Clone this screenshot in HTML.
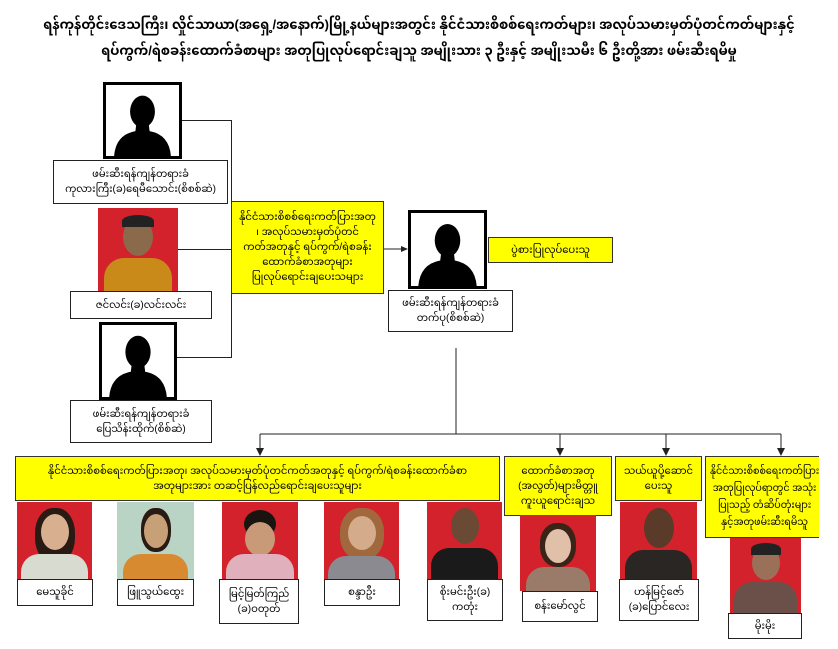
<!DOCTYPE html>
<html><head><meta charset="utf-8"><style>
*{margin:0;padding:0;box-sizing:border-box}
body{width:838px;height:649px;background:#fff;position:relative;overflow:hidden;font-family:"Liberation Sans","Noto Sans Myanmar","Padauk",sans-serif;color:#000}
.a{position:absolute}
.t{position:absolute;left:0;width:838px;text-align:center;font-size:13px;font-weight:bold}
.box{position:absolute;border:1.5px solid #222;background:#fff;display:flex;align-items:center;justify-content:center;text-align:center;font-size:10px;line-height:15px}
.y{position:absolute;border:1px solid #333;background:#ffff00;display:flex;align-items:center;justify-content:center;text-align:center;font-size:10px;line-height:15px;overflow:hidden}
.sil{position:absolute;border:3px solid #000;background:#fff;overflow:hidden}
.ph{position:absolute;background:#d3222c;overflow:hidden}
.ln{position:absolute;background:#222}
</style></head><body>
<div class="t" style="top:13px">ရန်ကုန်တိုင်းဒေသကြီး၊ လှိုင်သာယာ(အရှေ့/အနောက်)မြို့နယ်များအတွင်း နိုင်ငံသားစိစစ်ရေးကတ်များ၊ အလုပ်သမားမှတ်ပုံတင်ကတ်များနှင့်</div>
<div class="t" style="top:39px">ရပ်ကွက်/ရဲစခန်းထောက်ခံစာများ အတုပြုလုပ်ရောင်းချသူ အမျိုးသား ၃ ဦးနှင့် အမျိုးသမီး ၆ ဦးတို့အား ဖမ်းဆီးရမိမှု</div>

<div class="ln" style="left:181px;top:120px;width:51px;height:1px"></div>
<div class="ln" style="left:231px;top:120px;width:1px;height:238px"></div>
<div class="ln" style="left:177px;top:249px;width:54px;height:1px"></div>
<div class="ln" style="left:176px;top:357px;width:56px;height:1px"></div>

<svg class="a" style="left:0;top:0" width="838" height="649">
<defs><symbol id="s" viewBox="0 0 80 80"><ellipse cx="40" cy="30" rx="14" ry="18" fill="#000"/><path d="M33 44 L47 44 L48 52 Q70 56 72 80 L8 80 Q10 56 32 52 Z" fill="#000"/></symbol></defs>
<line x1="383" y1="249" x2="403" y2="249" stroke="#222" stroke-width="1"/>
<polygon points="408,249 401,246 401,252" fill="#222"/>
<line x1="456" y1="348" x2="456" y2="434" stroke="#222"/>
<line x1="260" y1="434" x2="781" y2="434" stroke="#222"/>
<g stroke="#222"><line x1="260" y1="434" x2="260" y2="450"/><line x1="560" y1="434" x2="560" y2="450"/><line x1="666" y1="434" x2="666" y2="450"/><line x1="781" y1="434" x2="781" y2="450"/></g>
<g fill="#222"><polygon points="260,456 256,448 264,448"/><polygon points="560,456 556,448 564,448"/><polygon points="666,456 662,448 670,448"/><polygon points="781,456 777,448 785,448"/></g>
</svg>

<div class="sil" style="left:103px;top:82px;width:79px;height:77px"><svg width="73" height="71" viewBox="0 0 80 80"><use href="#s"/></svg></div>
<div class="box" style="left:53px;top:160px;width:175px;height:44px">ဖမ်းဆီးရန်ကျန်တရားခံ<br>ကုလားကြီး(ခ)ရေမီသောင်း(စိစစ်ဆဲ)</div>
<div class="ph" style="left:98px;top:208px;width:80px;height:83px"><div class="a" style="left:25px;top:10px;width:30px;height:38px;border-radius:50%;background:#8a6a4a"></div><div class="a" style="left:24px;top:7px;width:32px;height:12px;border-radius:50% 50% 0 0;background:#222"></div><div class="a" style="left:6px;top:50px;width:68px;height:40px;border-radius:20px 20px 0 0;background:#c98a1a"></div></div>
<div class="box" style="left:70px;top:291px;width:142px;height:28px">ဇင်လင်း(ခ)လင်းလင်း</div>
<div class="sil" style="left:99px;top:322px;width:78px;height:78px"><svg width="72" height="72" viewBox="0 0 80 80"><use href="#s"/></svg></div>
<div class="box" style="left:70px;top:400px;width:142px;height:43px">ဖမ်းဆီးရန်ကျန်တရားခံ<br>ပြေသိန်းထိုက်(စိစ်ဆဲ)</div>

<div class="y" style="left:231px;top:201px;width:153px;height:93px">နိုင်ငံသားစိစစ်ရေးကတ်ပြားအတု<br>၊ အလုပ်သမားမှတ်ပုံတင်<br>ကတ်အတုနှင့် ရပ်ကွက်/ရဲစခန်း<br>ထောက်ခံစာအတုများ<br>ပြုလုပ်ရောင်းချပေးသများ</div>

<div class="sil" style="left:408px;top:210px;width:79px;height:79px"><svg width="73" height="73" viewBox="0 0 80 80"><use href="#s"/></svg></div>
<div class="box" style="left:388px;top:290px;width:125px;height:42px">ဖမ်းဆီးရန်ကျန်တရားခံ<br>တက်ပု(စိစစ်ဆဲ)</div>
<div class="y" style="left:488px;top:237px;width:125px;height:26px">ပွဲစားပြုလုပ်ပေးသူ</div>

<div class="y" style="left:15px;top:456px;width:485px;height:45px">နိုင်ငံသားစိစစ်ရေးကတ်ပြားအတု၊ အလုပ်သမားမှတ်ပုံတင်ကတ်အတုနှင့် ရပ်ကွက်/ရဲစခန်းထောက်ခံစာ<br>အတုများအား တဆင့်ပြန်လည်ရောင်းချပေးသူများ</div>
<div class="y" style="left:504px;top:456px;width:108px;height:60px">ထောက်ခံစာအတု<br>(အလွတ်)များမိတ္တူ<br>ကူးယူရောင်းချသ</div>
<div class="y" style="left:615px;top:456px;width:87px;height:45px">သယ်ယူပို့ဆောင်<br>ပေးသူ</div>
<div class="y" style="left:705px;top:456px;width:114px;height:82px;border-right:none;white-space:nowrap;font-size:9.5px;line-height:17px;justify-content:flex-start;padding-left:4px">နိုင်ငံသားစိစစ်ရေးကတ်ပြား<br>အတုပြုလုပ်ရာတွင် အသုံး<br>ပြုသည့် တံဆိပ်တုံးများ<br>နှင့်အတုဖမ်းဆီးရမိသူ</div>

<div class="ph" style="left:17px;top:502px;width:75px;height:77px"><div class="a" style="left:18px;top:6px;width:40px;height:55px;border-radius:45%;background:#2a1a14"></div><div class="a" style="left:24px;top:12px;width:28px;height:36px;border-radius:50%;background:#d8b090"></div><div class="a" style="left:4px;top:52px;width:67px;height:30px;border-radius:18px 18px 0 0;background:#d8dcd0"></div></div>
<div class="ph" style="left:117px;top:502px;width:77px;height:77px;background:#b9d3c4"><div class="a" style="left:24px;top:6px;width:30px;height:44px;border-radius:45%;background:#2a1a14"></div><div class="a" style="left:27px;top:12px;width:24px;height:34px;border-radius:50%;background:#c8a078"></div><div class="a" style="left:6px;top:52px;width:65px;height:30px;border-radius:18px 18px 0 0;background:#d88a30"></div></div>
<div class="ph" style="left:222px;top:502px;width:76px;height:77px"><div class="a" style="left:22px;top:8px;width:32px;height:28px;border-radius:50%;background:#1a1410"></div><div class="a" style="left:23px;top:20px;width:30px;height:34px;border-radius:50%;background:#c89a78"></div><div class="a" style="left:4px;top:52px;width:68px;height:30px;border-radius:18px 18px 0 0;background:#e0b0bc"></div></div>
<div class="ph" style="left:324px;top:502px;width:75px;height:77px"><div class="a" style="left:16px;top:6px;width:44px;height:52px;border-radius:45%;background:#a0683c"></div><div class="a" style="left:24px;top:14px;width:28px;height:34px;border-radius:50%;background:#d4ac8c"></div><div class="a" style="left:4px;top:54px;width:67px;height:28px;border-radius:18px 18px 0 0;background:#8a8a90"></div></div>
<div class="ph" style="left:427px;top:502px;width:75px;height:77px"><div class="a" style="left:24px;top:6px;width:28px;height:36px;border-radius:50%;background:#6a4a34"></div><div class="a" style="left:4px;top:46px;width:67px;height:34px;border-radius:18px 18px 0 0;background:#1a1a1a"></div></div>
<div class="ph" style="left:520px;top:515px;width:76px;height:76px"><div class="a" style="left:20px;top:8px;width:36px;height:44px;border-radius:45%;background:#3a2418"></div><div class="a" style="left:25px;top:14px;width:26px;height:34px;border-radius:50%;background:#e0c0a8"></div><div class="a" style="left:6px;top:52px;width:64px;height:30px;border-radius:18px 18px 0 0;background:#9a7a68"></div></div>
<div class="ph" style="left:620px;top:502px;width:77px;height:77px"><div class="a" style="left:24px;top:6px;width:30px;height:40px;border-radius:50%;background:#5a3a28"></div><div class="a" style="left:5px;top:48px;width:67px;height:34px;border-radius:18px 18px 0 0;background:#2a2624"></div></div>
<div class="ph" style="left:730px;top:538px;width:71px;height:75px"><div class="a" style="left:22px;top:8px;width:28px;height:34px;border-radius:50%;background:#9a7058"></div><div class="a" style="left:21px;top:5px;width:30px;height:12px;border-radius:50% 50% 0 0;background:#222"></div><div class="a" style="left:4px;top:44px;width:63px;height:34px;border-radius:18px 18px 0 0;background:#6a5048"></div></div>

<div class="box" style="left:17px;top:579px;width:76px;height:27px">မေသူခိုင်</div>
<div class="box" style="left:117px;top:579px;width:77px;height:27px">ဖြူသွယ်ထွေး</div>
<div class="box" style="left:219px;top:579px;width:80px;height:45px">မြင့်မြတ်ကြည်<br>(ခ)ဝတုတ်</div>
<div class="box" style="left:324px;top:579px;width:76px;height:27px">စန္ဒာဦး</div>
<div class="box" style="left:427px;top:579px;width:76px;height:42px">စိုးမင်းဦး(ခ)<br>ကတုံး</div>
<div class="box" style="left:522px;top:591px;width:76px;height:31px">စန်းမော်လွင်</div>
<div class="box" style="left:619px;top:579px;width:80px;height:42px">ဟန်မြင့်ဇော်<br>(ခ)ပြောင်လေး</div>
<div class="box" style="left:728px;top:613px;width:74px;height:26px">မိုးမိုး</div>
</body></html>
